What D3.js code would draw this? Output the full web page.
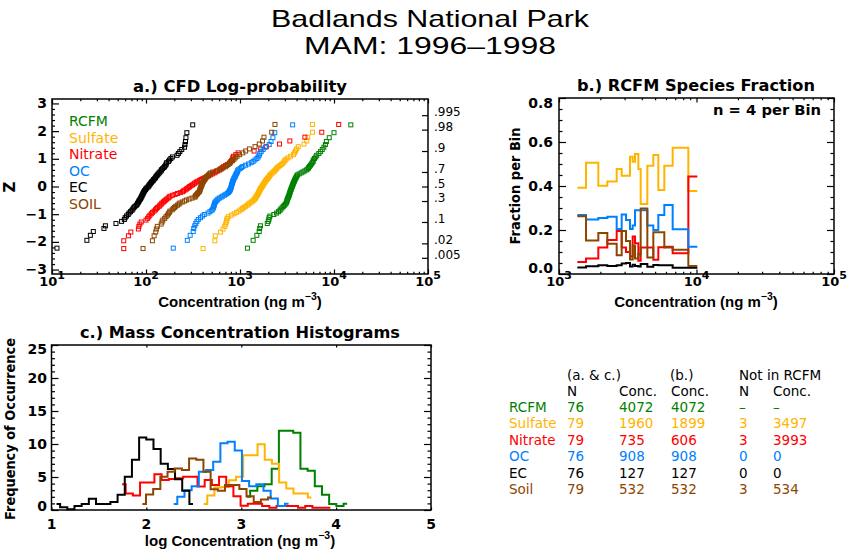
<!DOCTYPE html>
<html>
<head>
<meta charset="utf-8">
<script src="https://d3js.org/d3.v7.min.js"></script>
<style>
body{margin:0;background:#fff;}
svg{display:block;}
text{font-family:"DejaVu Sans",sans-serif;}
</style>
</head>
<body>
<script>
var W=860,H=550;

var species=["RCFM","Sulfate","Nitrate","OC","EC","Soil"];
var legendNames=["RCFM","Sulfate","Nitrate","OC","EC","SOIL"];
var colors=["#008000","#ffb400","#ff0000","#0080ff","#000000","#8c4600"];

// a.) sorted concentrations, ng/m3 (Z comes from the rank)
var concRCFM=[1200,1380,1510,1600,1620,1650,1950,2000,2030,2040,2080,2290,2450,2570,2660,2720,2800,2880,2950,3020,3090,3130,3160,3170,3200,3235,3270,3300,3330,3350,3380,3400,3420,3450,3480,3510,3540,3570,3600,3630,3660,3690,3730,3760,3800,3840,3880,3930,3980,4030,4080,4260,4470,4680,4900,5130,5300,5370,5500,5620,5750,5880,6000,6030,6200,6400,6550,6900,7200,7500,7800,8100,8300,8900,10000,15100];
var concSulfate=[405,540,545,620,660,690,705,715,722,730,750,810,865,920,975,1023,1060,1100,1145,1195,1230,1275,1320,1365,1400,1430,1455,1475,1500,1520,1540,1560,1580,1595,1610,1625,1650,1670,1690,1720,1740,1760,1785,1810,1835,1860,1890,1920,1960,1995,2030,2065,2090,2140,2200,2260,2320,2380,2430,2480,2560,2660,2760,2860,2930,3000,3090,3240,3450,3700,3800,3900,4000,4170,4800,5130,5250,5900,5900];
var concNitrate=[58,58,65,69,83,84,86,89,100,104,107,110,114,117,122,126,129,133,138,141,145,148,153,157,162,166,172,176,180,191,204,216,232,245,251,260,269,275,285,292,302,313,324,331,343,355,372,385,403,422,442,462,484,507,531,550,575,603,624,646,668,700,733,776,794,813,832,841,851,902,955,1413,1660,1905,2630,3390,4900,7410,11220];
var concOC=[195,275,295,318,322,330,339,348,360,380,398,417,457,479,501,513,520,525,530,534,537,545,556,570,583,603,631,653,683,707,733,755,767,778,786,794,800,807,811,813,820,826,832,838,845,851,861,870,885,891,901,912,925,937,946,955,1000,1035,1072,1148,1230,1318,1380,1445,1514,1560,1600,1622,1680,1760,1862,2045,2140,2240,2345,3630];
var concEC=[11.3,23.5,25.6,27.5,35.7,37,47.9,55,58.8,60,62,64.6,66,68.4,70.8,72.4,74,75.9,78.5,80.4,81.3,83.2,84.1,85.1,87.1,88.1,89.1,90.2,91.2,92.3,93.3,94.4,95.5,96.6,98.9,100,102,105,107,108,110,112,114,116,119,120,123,126,127,130,132,135,138,141,145,146,150,155,158,162,164,166,174,178,184,191,214,221,229,240,257,260,263,266,272,314];
var concSoil=[93,117,122,127,129,132,145,148,151,158,163,169,173,177,180,190,195,201,207,216,224,229,243,257,269,288,309,331,335,339,347,353,360,369,372,374,377,380,383,386,389,393,395,398,404,409,415,421,427,432,444,454,465,473,484,513,562,603,631,661,700,724,750,776,794,832,861,891,929,989,1072,1148,1259,1445,1603,1738,1799,2173,2355];
var probLabels=[".995",".98",".9",".7",".5",".3",".1",".02",".005"];
var probValues=[0.995,0.98,0.9,0.7,0.5,0.3,0.1,0.02,0.005];

// b.) RCFM bin edges (ng/m3) and species fraction per bin
var binEdges=[1360,1572,1932,2246,2627,2857,3071,3284,3434,3570,3776,3927,4390,4853,5277,5834,6709,8722,10140];
var fracSulfate=[0.392,0.506,0.401,0.42,0.477,0.447,0.447,0.533,0.51,0.545,0.477,0.318,0.492,0.541,0.382,0.492,0.574,0.377];
var fracNitrate=[0.055,0.07,0.121,0.155,0.195,0.12,0.1,0.08,0.17,0.14,0.06,0.12,0.12,0.065,0.122,0.124,0.094,0.443];
var fracOC=[0.268,0.248,0.254,0.26,0.204,0.271,0.245,0.204,0.22,0.29,0.29,0.29,0.22,0.2,0.268,0.314,0.203,0.124];
var fracEC=[0.03,0.035,0.04,0.036,0.04,0.048,0.05,0.034,0.042,0.036,0.034,0.045,0.033,0.041,0.04,0.04,0.028,0.028];
var fracSoil=[0.262,0.152,0.186,0.138,0.085,0.195,0.15,0.066,0.13,0.07,0.09,0.298,0.075,0.19,0.19,0.12,0.11,0.036];

// c.) histograms: first bin centre (log conc) and frequency per bin
var binW=0.0757;
var histStart=[3.056,2.604,1.744,2.288,1.053,1.958];
var histRCFM=[2.0,2.9,3.6,3.9,6.25,12.0,12.0,11.7,6.25,5.95,3.6,2.3,0.9,0.6,0.95];
var histSulfate=[0.9,2.2,3.4,3.5,4.5,5.05,8.3,8.3,9.95,7.6,7.0,4.15,3.25,2.5,2.5,1.9];
var histNitrate=[3.9,2.5,2.2,4.15,4.15,5.4,4.55,4.7,4.8,5.05,5.05,3.55,4.55,3.8,5.05,3.6,2.1,0.65,0.95,0.95,0.6,0.35,0.6,0.6,0.6,0.35,0.6,0.35,0.35,0.35];
var histOC=[0.9,2.0,3.0,3.6,5.8,6.05,7.3,10.1,10.35,9.0,4.4,3.6,3.9,2.9,1.75,0.6,0.95];
var histEC=[0.9,0.4,0.1,0.6,0.9,1.7,0.9,0.9,1.2,2.3,5.05,7.6,11.0,10.7,9.25,7.0,6.2,4.65,2.9,0.9];
var histSoil=[0.9,2.35,3.2,5.05,5.8,6.3,6.05,7.8,7.6,5.8,3.15,2.9,3.8,3.8,3.2,2.1,1.2,1.6,1.9];

// table
var tableN=["76","79","79","76","76","79"];
var tableConcAC=["4072","1960","735","908","127","532"];
var tableConcB=["4072","1899","606","908","127","532"];
var tableNotN=["\u2013","3","3","0","0","3"];
var tableNotConc=["\u2013","3497","3993","0","0","534"];

// inverse normal CDF (Acklam)
function probit(p){
    var a=[-39.69683028665376,220.9460984245205,-275.9285104469687,138.3577518672690,-30.66479806614716,2.506628277459239];
    var b=[-54.47609879822406,161.5858368580409,-155.6989798598866,66.80131188771972,-13.28068155288572];
    var c=[-0.007784894002430293,-0.3223964580411365,-2.400758277161838,-2.549732539343734,4.374664141464968,2.938163982698783];
    var d=[0.007784695709041462,0.3224671290700398,2.445134137142996,3.754408661907416];
    var q,r;
    if(p<0.02425){
        q=Math.sqrt(-2*Math.log(p));
        return (((((c[0]*q+c[1])*q+c[2])*q+c[3])*q+c[4])*q+c[5])/((((d[0]*q+d[1])*q+d[2])*q+d[3])*q+1);
    }
    if(p>1-0.02425){
        q=Math.sqrt(-2*Math.log(1-p));
        return -(((((c[0]*q+c[1])*q+c[2])*q+c[3])*q+c[4])*q+c[5])/((((d[0]*q+d[1])*q+d[2])*q+d[3])*q+1);
    }
    q=p-0.5; r=q*q;
    return (((((a[0]*r+a[1])*r+a[2])*r+a[3])*r+a[4])*r+a[5])*q/(((((b[0]*r+b[1])*r+b[2])*r+b[3])*r+b[4])*r+1);
}

var svg=d3.select("body").append("svg").attr("width",W).attr("height",H);

function label(x,y,s,size,opts){
    opts=opts||{};
    var t=svg.append("text").attr("x",x).attr("y",y)
        .attr("font-size",size)
        .attr("text-anchor",opts.anchor||"start")
        .attr("fill",opts.fill||"#000")
        .attr("font-weight",opts.bold?"bold":"normal")
        .text(s);
    if(opts.family) t.style("font-family",opts.family);
    if(opts.len) t.attr("textLength",opts.len).attr("lengthAdjust","spacingAndGlyphs");
    if(opts.rotate) t.attr("transform","rotate(-90,"+x+","+y+")");
    return t;
}

// "Concentration (ng m^-3)" style labels
function unitLabel(x,y,pre,size){
    var t=label(x,y,"",size,{anchor:"middle",bold:true,family:"'Liberation Sans',Arial,sans-serif"});
    t.append("tspan").text(pre+" (ng m");
    t.append("tspan").attr("dy",-size*0.45).attr("font-size",size*0.7).text("\u22123");
    t.append("tspan").attr("dy",size*0.45).text(")");
    return t;
}

function powerLabel(x,y,exp){
    var t=label(x,y,"",13,{anchor:"middle",bold:true});
    t.append("tspan").text("10");
    t.append("tspan").attr("dy",-7).attr("font-size",11).text(exp);
}

function tickMarks(axisFn,scale,tx,ty,values,len){
    var g=svg.append("g").attr("transform","translate("+tx+","+ty+")")
        .call(axisFn(scale).tickValues(values).tickSize(len).tickSizeOuter(0).tickFormat(""));
    g.select(".domain").remove();
    g.selectAll("line").attr("stroke","#000").attr("stroke-width",1.2);
}

function box(x0,y0,x1,y1){
    svg.append("rect").attr("x",x0).attr("y",y0).attr("width",x1-x0).attr("height",y1-y0)
        .attr("fill","none").attr("stroke","#000").attr("stroke-width",1.5);
}

function logMinors(lo,hi){
    var out=[];
    for(var e=lo;e<hi;e++) for(var k=2;k<10;k++) out.push(k*Math.pow(10,e));
    return out;
}

// titles
var titleFont="'Liberation Sans',Arial,sans-serif";
label(430,26.5,"Badlands National Park",24,{anchor:"middle",len:318,family:titleFont});
label(430,54,"MAM: 1996\u20131998",24,{anchor:"middle",len:252,family:titleFont});

// ---------- a.) CFD Log-probability ----------
var xa=d3.scaleLog().domain([10,1e5]).range([52,428]);
var ya=d3.scaleLinear().domain([-3.16,3.16]).range([274,99]);
var concA=[concRCFM,concSulfate,concNitrate,concOC,concEC,concSoil];

var aMajorX=[10,100,1000,10000,100000];
tickMarks(d3.axisBottom,xa,0,274,aMajorX,-4.5);
tickMarks(d3.axisBottom,xa,0,274,logMinors(1,5),-2.2);
tickMarks(d3.axisTop,xa,0,99,aMajorX,-4.5);
tickMarks(d3.axisTop,xa,0,99,logMinors(1,5),-2.2);
tickMarks(d3.axisLeft,ya,52,0,d3.range(-3,4),-7);
tickMarks(d3.axisLeft,ya,52,0,d3.range(-3,3.01,0.2).filter(function(v){return Math.abs(v-Math.round(v))>0.01;}),-3);
var probZ=probValues.map(probit);
tickMarks(d3.axisRight,ya,428,0,probZ,-6);

concA.forEach(function(arr,s){
    var n=arr.length;
    svg.append("g").selectAll("rect").data(arr).join("rect")
        .attr("x",function(c){return xa(c)-2;})
        .attr("y",function(c,i){return ya(probit((i+1)/(n+1)))-2;})
        .attr("width",4).attr("height",4)
        .attr("fill","none").attr("stroke",colors[s]).attr("stroke-width",1);
});
box(52,99,428,274);

d3.range(-3,4).forEach(function(v){
    label(47,ya(v)+4.5,v<0?"\u2212"+(-v):""+v,14,{anchor:"end",bold:true});
});
aMajorX.forEach(function(v,i){ powerLabel(xa(v),286,""+(i+1)); });
probLabels.forEach(function(s,i){ label(434,ya(probZ[i])+1,s,12); });
legendNames.forEach(function(s,i){ label(69,126+i*16.6,s,14,{fill:colors[i]}); });

label(240,92,"a.) CFD Log-probability",16,{anchor:"middle",bold:true,len:214});
unitLabel(240,307,"Concentration",15);
label(15,187,"Z",15,{anchor:"middle",bold:true,rotate:true});

// ---------- b.) RCFM Species Fraction ----------
var xb=d3.scaleLog().domain([1e3,1e5]).range([559,834]);
var yb=d3.scaleLinear().domain([0,0.8]).range([274,98]);
var bMajorX=[1e3,1e4,1e5];
var bMajorY=[0,0.2,0.4,0.6,0.8];
var bMinorY=d3.range(0.05,0.8,0.05).filter(function(v){return Math.abs(v/0.2-Math.round(v/0.2))>0.01;});
tickMarks(d3.axisBottom,xb,0,274,bMajorX,-4.5);
tickMarks(d3.axisBottom,xb,0,274,logMinors(3,5),-2.2);
tickMarks(d3.axisTop,xb,0,98,bMajorX,-4.5);
tickMarks(d3.axisTop,xb,0,98,logMinors(3,5),-2.2);
tickMarks(d3.axisLeft,yb,559,0,bMajorY,-7);
tickMarks(d3.axisLeft,yb,559,0,bMinorY,-3.5);
tickMarks(d3.axisRight,yb,834,0,bMajorY,-7);
tickMarks(d3.axisRight,yb,834,0,bMinorY,-3.5);

var fracB=[fracSulfate,fracNitrate,fracOC,fracEC,fracSoil];
var fracColors=[colors[1],colors[2],colors[3],colors[4],colors[5]];
var stepB=d3.line()
    .x(function(d){return xb(d[0]);})
    .y(function(d){return yb(d[1]);})
    .curve(d3.curveStepAfter);
fracB.forEach(function(vals,s){
    var pts=binEdges.map(function(e,i){return [e,vals[Math.min(i,vals.length-1)]];});
    svg.append("path").attr("d",stepB(pts)).attr("fill","none")
        .attr("stroke",fracColors[s]).attr("stroke-width",2);
});
box(559,98,834,274);

bMajorY.forEach(function(v,i){
    var dy=i===0?-1.5:(i===bMajorY.length-1?10:5);
    label(553,yb(v)+dy,v.toFixed(1),14,{anchor:"end",bold:true});
});
bMajorX.forEach(function(v,i){ powerLabel(xb(v),286,""+(i+3)); });
label(696,91,"b.) RCFM Species Fraction",16,{anchor:"middle",bold:true,len:238});
label(713,115,"n = 4 per Bin",14,{bold:true,len:108});
unitLabel(696,307,"Concentration",15);
label(520,186,"Fraction per Bin",14,{anchor:"middle",bold:true,rotate:true,len:117});

// ---------- c.) Mass Concentration Histograms ----------
var xc=d3.scaleLinear().domain([1,5]).range([51.5,431]);
var yc=d3.scaleLinear().domain([0,25]).range([510,345]);
var cMajorY=[0,5,10,15,20,25];
var cMinorY=d3.range(1,25).filter(function(v){return v%5!==0;});
tickMarks(d3.axisBottom,xc,0,510,[1,2,3,4,5],-2.5);
tickMarks(d3.axisTop,xc,0,345,[1,2,3,4,5],-2.5);
tickMarks(d3.axisLeft,yc,51.5,0,cMajorY,-7);
tickMarks(d3.axisLeft,yc,51.5,0,cMinorY,-3.5);
tickMarks(d3.axisRight,yc,431,0,cMajorY,-7);
tickMarks(d3.axisRight,yc,431,0,cMinorY,-3.5);

var histC=[histRCFM,histSulfate,histNitrate,histOC,histEC,histSoil];
var stepC=d3.line()
    .x(function(d){return xc(d[0]);})
    .y(function(d){return yc(d[1]);})
    .curve(d3.curveStep);
histC.forEach(function(vals,s){
    var pts=vals.map(function(v,i){return [histStart[s]+i*binW,v];});
    svg.append("path").attr("d",stepC(pts)).attr("fill","none")
        .attr("stroke",colors[s]).attr("stroke-width",2);
});
box(51.5,345,431,510);

cMajorY.forEach(function(v,i){
    var dy=i===0?1:(i===cMajorY.length-1?9:5);
    label(47,yc(v)+dy,""+v,14,{anchor:"end",bold:true});
});
[1,2,3,4,5].forEach(function(v){ label(xc(v),529,""+v,14,{anchor:"middle",bold:true}); });
label(240,338,"c.) Mass Concentration Histograms",16,{anchor:"middle",bold:true,len:320});
unitLabel(240,546,"log Concentration",15);
label(15,429,"Frequency of Occurrence",14,{anchor:"middle",bold:true,rotate:true,len:182});

// ---------- table ----------
var colX=[509,567,619,671,739,773];
label(567,380,"(a. & c.)",13.5);
label(670,380,"(b.)",13.5);
label(739,380,"Not in RCFM",13.5);
label(567,396,"N",13.5);
label(619,396,"Conc.",13.5);
label(671,396,"Conc.",13.5);
label(739,396,"N",13.5);
label(773,396,"Conc.",13.5);
species.forEach(function(s,i){
    var y=412+i*16.4;
    var row=[s,tableN[i],tableConcAC[i],tableConcB[i],tableNotN[i],tableNotConc[i]];
    row.forEach(function(v,j){ label(colX[j],y,v,13.5,{fill:colors[i]}); });
});
</script>
</body>
</html>
